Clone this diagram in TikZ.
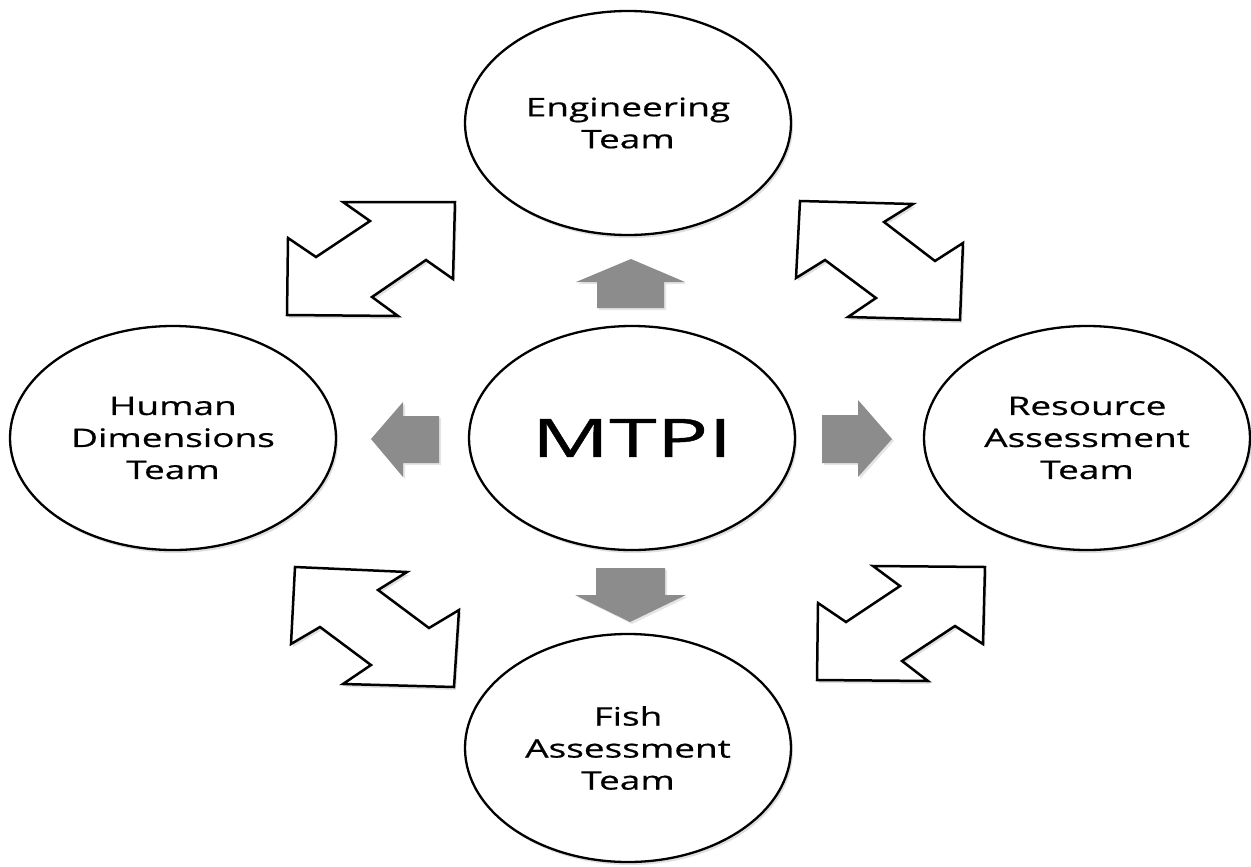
\documentclass[tikz,border=0pt]{standalone}
\usepackage{fontspec}
\setmainfont{Open Sans}
\newfontfamily\widefont[FakeStretch=1.45,FakeBold=0.6]{Open Sans}
\newfontfamily\widerfont[FakeStretch=1.62,FakeBold=0.8]{Open Sans}
\usetikzlibrary{shapes.geometric,shadows}
\definecolor{arrowgray}{RGB}{140,140,140}
\begin{document}
\begin{tikzpicture}[x=1pt,y=-1pt,
  team/.style={ellipse, draw=black, line width=2.3pt, fill=white,
    minimum width=326pt, minimum height=224pt, inner sep=0pt, align=center,
    font=\widefont\fontsize{25.5}{32}\selectfont,
    drop shadow={opacity=0.25, shadow xshift=2pt, shadow yshift=-3pt}},
  hub/.style={team, font=\widerfont\fontsize{53}{60}\selectfont},
  grayarrow/.style={fill=arrowgray, draw=none,
    drop shadow={opacity=0.2, shadow xshift=2pt, shadow yshift=-2pt}},
  dblarrow/.style={draw=black, fill=white, line width=2.5pt, line join=miter,
    drop shadow={opacity=0.25, shadow xshift=2pt, shadow yshift=-3pt}}
]
\useasboundingbox (0,0) rectangle (1251,867);
\fill[white] (0,0) rectangle (1251,867);

% team ellipses
\node[team] (eng) at (628,123) {Engineering\\Team};
\node[team] (hum) at (173,438) {Human\\Dimensions\\Team};
\node[hub]  (mtpi) at (632,438) {MTPI};
\node[team] (res) at (1087,438) {Resource\\Assessment\\Team};
\node[team, minimum height=228pt] (fish) at (628,748) {Fish\\Assessment\\Team};

% gray single arrows from the hub
\draw[grayarrow] (597,308) -- (597,282) -- (576,282) -- (631,259) -- (685,282) -- (664,282) -- (664,308) -- cycle;
\draw[grayarrow] (596,568) -- (665,568) -- (665,595) -- (686,595) -- (630,622) -- (575,595) -- (596,595) -- cycle;
\draw[grayarrow] (439,416) -- (403,416) -- (403,402) -- (371,439) -- (403,477) -- (403,463) -- (439,463) -- cycle;
\draw[grayarrow] (822,415) -- (858,415) -- (858,400) -- (892,439) -- (858,477) -- (858,463) -- (822,463) -- cycle;

% outlined double arrows between teams
\draw[dblarrow] (343,202) -- (455,202) -- (453,279) -- (426,260) -- (372,297) -- (398,316) -- (287,315) -- (288,238) -- (316,257) -- (370,221) -- cycle;
\draw[dblarrow] (800,201) -- (913,204) -- (884,222) -- (935,261) -- (963,243) -- (960,320) -- (848,317) -- (876,298) -- (825,260) -- (796,278) -- cycle;
\draw[dblarrow] (295,567) -- (407,572) -- (378,590) -- (429,628) -- (459,610) -- (454,687) -- (343,684) -- (371,665) -- (320,627) -- (291,644) -- cycle;
\draw[dblarrow] (873,566) -- (985,567) -- (983,644) -- (955,626) -- (902,661) -- (928,681) -- (817,680) -- (818,603) -- (846,622) -- (900,586) -- cycle;
\end{tikzpicture}
\end{document}
